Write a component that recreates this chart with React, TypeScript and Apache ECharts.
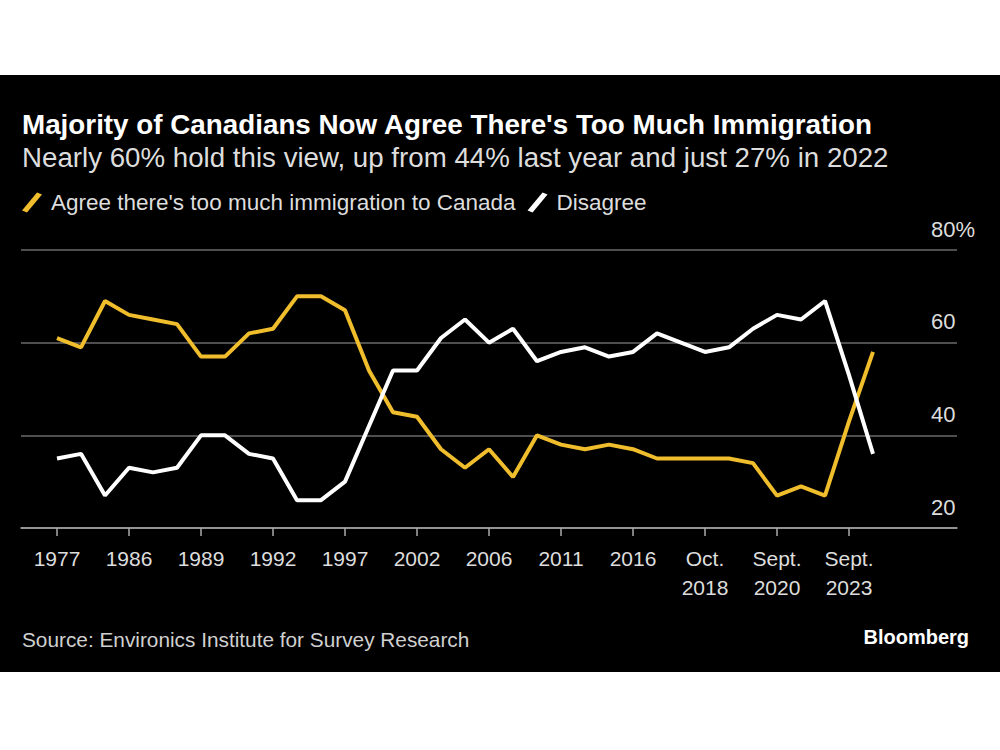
import React, { useEffect, useRef } from "react";
import * as echarts from "echarts";

// Survey waves (index order) — tick labels shown every third wave
const tickPositions = [0, 3, 6, 9, 12, 15, 18, 21, 24, 27, 30, 33];
const tickLabels = [
  "1977", "1986", "1989", "1992", "1997", "2002", "2006", "2011", "2016",
  "Oct.\n2018", "Sept.\n2020", "Sept.\n2023",
];

// Share of respondents (%)
const agree = [
  61, 59, 69, 66, 65, 64, 57, 57, 62, 63, 70, 70, 67, 54, 45, 44, 37, 33, 37, 31,
  40, 38, 37, 38, 37, 35, 35, 35, 35, 34, 27, 29, 27, 43, 58,
];
const disagree = [
  35, 36, 27, 33, 32, 33, 40, 40, 36, 35, 26, 26, 30, 42, 54, 54, 61, 65, 60, 63,
  56, 58, 59, 57, 58, 62, 60, 58, 59, 63, 66, 65, 69, 53, 36,
];

const FONT = "'Liberation Sans', Arial, Helvetica, sans-serif";
const YELLOW = "#f0bd2c";
const SLASH = "path://M15,0 L20,2 L5,20 L0,18 Z";

export default function App() {
  const ref = useRef<HTMLDivElement>(null);

  useEffect(() => {
    document.body.style.margin = "0";
    const chart = echarts.init(ref.current!, null, { renderer: "svg" });
    const option: any = {
      animation: false,
      backgroundColor: "#ffffff",
      textStyle: { fontFamily: FONT },
      graphic: [
        {
          type: "rect",
          z: -100,
          silent: true,
          shape: { x: 0, y: 75, width: 1000, height: 597 },
          style: { fill: "#000000" },
        },
      ],
      title: [
        {
          text: "Majority of Canadians Now Agree There's Too Much Immigration",
          left: 22,
          top: 110,
          padding: 0,
          textStyle: { color: "#ffffff", fontSize: 27.8, fontWeight: "bold", fontFamily: FONT },
        },
        {
          text: "Nearly 60% hold this view, up from 44% last year and just 27% in 2022",
          left: 22,
          top: 143,
          padding: 0,
          textStyle: { color: "#dddddd", fontSize: 27.7, fontWeight: "normal", fontFamily: FONT },
        },
        {
          text: "Source: Environics Institute for Survey Research",
          left: 22,
          top: 629,
          padding: 0,
          textStyle: { color: "#d0d0d0", fontSize: 20.8, fontWeight: "normal", fontFamily: FONT },
        },
        {
          text: "Bloomberg",
          right: 31,
          top: 627,
          padding: 0,
          textStyle: { color: "#ffffff", fontSize: 20, fontWeight: "bold", fontFamily: FONT },
        },
      ],
      legend: {
        left: 22,
        top: 191,
        padding: 0,
        itemWidth: 20,
        itemHeight: 20,
        itemGap: 12,
        icon: SLASH,
        textStyle: { color: "#dddddd", fontSize: 22.5, fontFamily: FONT, padding: [0, 0, 0, 4] },
        data: [
          { name: "Agree there's too much immigration to Canada", itemStyle: { color: YELLOW } },
          { name: "Disagree", itemStyle: { color: "#ffffff" } },
        ],
      },
      grid: { left: 21, right: 43, top: 250, bottom: 222, containLabel: false },
      xAxis: {
        type: "value",
        min: -1.5,
        max: 37.5,
        splitLine: { show: false },
        axisLine: { show: true, lineStyle: { color: "#aaaaaa", width: 1.5 } },
        axisTick: {
          show: true,
          customValues: tickPositions,
          length: 8,
          lineStyle: { color: "#aaaaaa", width: 1.5 },
        },
        axisLabel: {
          customValues: tickPositions,
          margin: 16,
          color: "#dddddd",
          fontSize: 21,
          lineHeight: 29,
          fontFamily: FONT,
          formatter: (v: number) => {
            const k = tickPositions.indexOf(Math.round(v));
            return k >= 0 ? tickLabels[k] : "";
          },
        },
      },
      yAxis: {
        type: "value",
        position: "right",
        min: 20,
        max: 80,
        interval: 20,
        axisLine: { show: false },
        axisTick: { show: false },
        splitLine: { show: true, lineStyle: { color: "#6a6a6a", width: 1.5 } },
        axisLabel: {
          margin: -26,
          color: "#dddddd",
          fontSize: 22,
          fontFamily: FONT,
          verticalAlign: "bottom",
          padding: [0, 0, 10, 0],
          formatter: (v: number) => (v === 80 ? "80%" : String(v)),
        },
      },
      series: [
        {
          name: "Agree there's too much immigration to Canada",
          type: "line",
          data: agree.map((v, i) => [i, v]),
          showSymbol: false,
          symbol: "none",
          lineStyle: { color: YELLOW, width: 4 },
          itemStyle: { color: YELLOW },
          z: 3,
        },
        {
          name: "Disagree",
          type: "line",
          data: disagree.map((v, i) => [i, v]),
          showSymbol: false,
          symbol: "none",
          lineStyle: { color: "#ffffff", width: 4 },
          itemStyle: { color: "#ffffff" },
          z: 4,
        },
      ],
    };
    chart.setOption(option);
    return () => chart.dispose();
  }, []);

  return <div ref={ref} style={{ width: 1000, height: 750 }} />;
}
